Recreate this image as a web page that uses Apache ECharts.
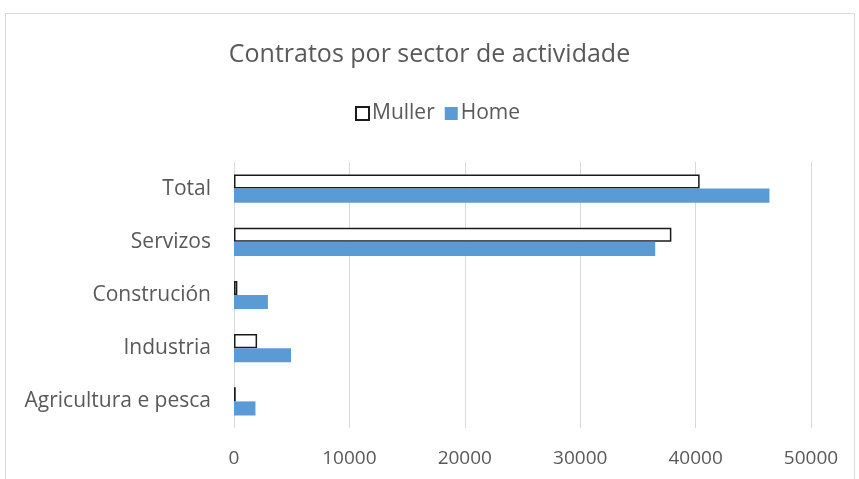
<!DOCTYPE html>
<html>
<head>
<meta charset="utf-8">
<script src="https://cdn.jsdelivr.net/npm/echarts@6/dist/echarts.min.js"></script>
<style>
  html, body { margin: 0; padding: 0; background: #fff; }
  #main { width: 859px; height: 479px; }
</style>
</head>
<body>
<div id="main"></div>
<script>
(function () {
  var myChart = echarts.init(document.getElementById('main'));

  // dados
  var sectores = ['Agricultura e pesca', 'Industria', 'Construción', 'Servizos', 'Total'];
  var muller = [150, 2000, 290, 37900, 40350];
  var home = [1860, 4940, 2940, 36500, 46400];
  var tickMax = 50000;
  var tickStep = 10000;

  var textColor = '#595959';
  var fontName = 'Open Sans';

  var option = {
    animation: false,
    backgroundColor: '#fff',
    textStyle: { fontFamily: fontName },
    graphic: [{
      type: 'rect',
      shape: { x: 5.5, y: 13.5, width: 849, height: 480 },
      style: { fill: 'none', stroke: '#d9d9d9', lineWidth: 1 },
      silent: true
    }],
    title: {
      text: 'Contratos por sector de actividade',
      left: 'center',
      top: 37,
      textStyle: { color: textColor, fontSize: 25, fontWeight: 'normal', fontFamily: fontName }
    },
    legend: {
      data: ['Muller', 'Home'],
      top: 103,
      left: 355,
      padding: 0,
      icon: 'rect',
      itemWidth: 13,
      itemHeight: 13,
      itemGap: 10,
      textStyle: { color: textColor, fontSize: 21, fontFamily: fontName, padding: [0, 0, 0, -2] }
    },
    grid: { left: 234, right: 48, top: 162, bottom: 51, containLabel: false },
    xAxis: {
      type: 'value',
      min: 0,
      max: tickMax,
      interval: tickStep,
      axisLine: { show: false },
      axisTick: { show: false },
      axisLabel: {
        color: textColor, fontSize: 19, margin: 21, fontFamily: fontName,
        formatter: function (v) { return String(v); }
      },
      splitLine: { show: true, lineStyle: { color: '#d9d9d9', width: 1 } }
    },
    yAxis: {
      type: 'category',
      data: sectores,
      axisLine: { show: false },
      axisTick: { show: false },
      axisLabel: { color: textColor, fontSize: 21, margin: 23, fontFamily: fontName }
    },
    series: [
      {
        name: 'Muller',
        type: 'bar',
        data: muller,
        barGap: '0%',
        barCategoryGap: '47%',
        itemStyle: { color: '#ffffff', borderColor: '#1a1a1a', borderWidth: 1.5 }
      },
      {
        name: 'Home',
        type: 'bar',
        data: home,
        barGap: '0%',
        barCategoryGap: '47%',
        itemStyle: { color: '#5b9bd5' }
      }
    ]
  };

  myChart.setOption(option);
})();
</script>
</body>
</html>
